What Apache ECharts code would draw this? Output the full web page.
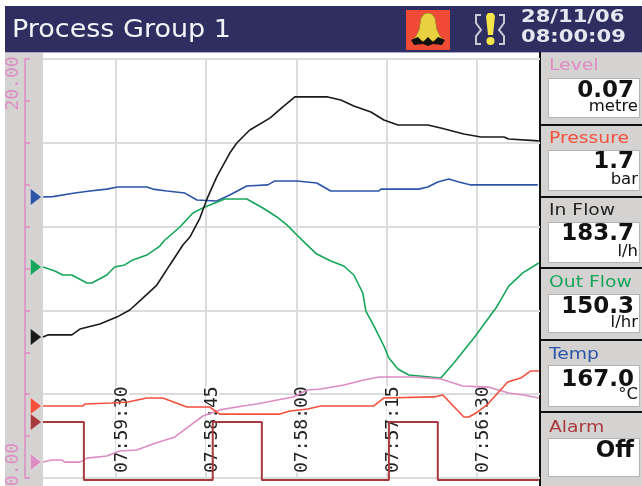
<!DOCTYPE html>
<html><head><meta charset="utf-8"><style>html,body{margin:0;padding:0;background:#fff}#c{width:642px;height:486px}</style>
<script src="https://cdn.jsdelivr.net/npm/echarts@6/dist/echarts.min.js"></script></head><body><div id="c"></div>
<script>
// seconds before 08:00:00 (chart runs backward in time to the right)
const tickSeconds=[30,75,120,165,210];
const tickLabels=['07:59:30','07:58:45','07:58:00','07:57:15','07:56:30'];
const tempT=[-6.4,-1.5,9.5,17,25.4,30.9,45.4,48.4,55.4,64.4,70.4,80.3,86.8,95.3,105.8,109.3,120.3,130.2,137.2,161.2,162.2,181.1,185.6,190.6,196.1,201.1,207.1,240.5];
const tempV=[13.41,13.43,13.60,13.70,13.79,13.89,13.89,13.79,13.70,13.60,13.27,13.22,13.51,13.94,13.99,14.18,14.18,14.08,13.70,13.70,13.79,13.79,13.89,14.13,14.27,14.13,13.99,13.99];
const outT=[-6.4,-0.5,3.5,8,15.5,18,25.4,29.4,34.4,38.4,45.4,51.9,54.4,61.9,68.4,74.4,84.3,95.3,103.3,110.3,115.3,120.3,124.3,130.2,137.2,143.7,148.7,153.2,154.7,158.7,163.7,166.2,170.7,176.1,192.1,198.6,208.6,219.6,226,233,241];
const outV=[10.07,9.88,9.69,9.69,9.31,9.31,9.69,10.07,10.17,10.41,10.64,11.07,11.36,11.98,12.65,12.94,13.32,13.32,12.89,12.46,12.08,11.60,11.22,10.69,10.36,10.12,9.69,8.83,7.97,7.26,6.30,5.73,5.20,4.92,4.77,5.49,6.68,8.11,9.16,9.79,10.26];
const inT=[-6.4,-4,8,12,22,30.4,36.9,43.4,50.4,56.9,63.4,66.9,71.9,75.8,80.3,86.8,90.3,96.8,106.8,113.3,119.3,132.2,135.7,142.2,148.7,157.2,163.7,170.7,185.6,192.1,203.6,212.1,223.6,226,241];
const inV=[6.73,6.83,6.83,7.11,7.35,7.68,8.02,8.59,9.21,10.17,11.12,11.50,12.41,13.41,14.37,15.51,15.99,16.61,17.18,17.71,18.19,18.19,18.19,18.04,17.76,17.47,17.09,16.85,16.85,16.71,16.42,16.28,16.28,16.18,16.09];
const levelT=[-6.4,-2,3,4.5,12,15.5,25.4,31.9,40.4,48.4,59.4,65.4,73.4,81.8,93.3,100.3,118.3,125.7,132.2,143.7,153.7,161.2,178.6,192.1,203.1,215.6,226,233.5,241];
const levelV=[0.76,0.86,0.86,0.76,0.76,0.95,1.05,1.29,1.34,1.62,1.96,2.39,2.96,3.25,3.44,3.53,3.87,4.20,4.25,4.44,4.68,4.82,4.82,4.73,4.39,4.34,4.06,3.96,3.82];
const pressT=[-6.4,13.5,14.5,27.9,35.9,45.4,53.4,65.4,76.8,81.8,111.8,116.8,125.7,132.2,158.7,163.7,188.6,193.1,203.6,206.1,209.6,215.6,225.5,232,237,241];
const pressV=[3.44,3.44,3.53,3.58,3.63,3.82,3.82,3.39,3.39,3.05,3.05,3.20,3.29,3.44,3.44,3.82,3.87,3.96,2.91,2.91,3.10,3.53,4.58,4.77,5.11,5.11];
const alarmT=[-6.4,14,14,78.3,78.3,102.8,102.8,166.2,166.2,190.6,190.6,241];
const alarmV=[2.67,2.67,-0.1,-0.1,2.67,2.67,-0.1,-0.1,2.67,2.67,-0.1,-0.1];
const panelNames=['Level','Pressure','In Flow','Out Flow','Temp','Alarm'];
const panelValues=['0.07','1.7','183.7','150.3','167.0','Off'];
const panelUnits=['metre','bar','l/h','l/hr','°C',''];
const title='Process Group 1', dateText='28/11/06', timeText='08:00:09';

const C={level:'#dd8cc4',press:'#f4503c',inf:'#1a1a1a',out:'#16a55a',temp:'#2c55a8',alarm:'#a83a3e'};
const defs=[['Temp',tempT,tempV,C.temp],['Out Flow',outT,outV,C.out],['In Flow',inT,inV,C.inf],
 ['Level',levelT,levelV,C.level],['Pressure',pressT,pressV,C.press],['Alarm',alarmT,alarmV,C.alarm]];
const series=defs.map(([n,t,v,c])=>({name:n,type:'line',xAxisIndex:0,yAxisIndex:0,z:3,symbol:'none',clip:false,
 lineStyle:{color:c,width:n==='Alarm'?2:1.6},itemStyle:{color:c},
 data:t.map((x,i)=>[x,v[i]]),
 markPoint:{silent:true,symbol:'triangle',symbolSize:[17,11],symbolRotate:-90,symbolOffset:[-7,0],label:{show:false},
  itemStyle:{color:c,borderColor:'rgba(255,255,255,.35)',borderWidth:1},data:[{coord:[t[0],v[0]]}]}}));

const g=[];
g.push({type:'rect',shape:{x:5,y:6,width:637,height:46},style:{fill:'#2e2f60'}});
g.push({type:'rect',shape:{x:5,y:52,width:637,height:1},style:{fill:'#a9a7c8'}});
g.push({type:'rect',shape:{x:5,y:53,width:38,height:433},style:{fill:'#d5d3d1'}});
function txt(s,x,y,font,fill,align,sx){g.push({type:'text',x:x,y:y,scaleX:sx||1,style:{text:s,x:0,y:0,font:font,fill:fill,textAlign:align||'left',textVerticalAlign:'middle'}});}
txt(title,12,30,'25px "DejaVu Sans"','#f4f4f8','left',1.08);
txt(dateText,521,18,'bold 17px "DejaVu Sans"','#e6e6f0','left',1.24);
txt(timeText,521,38,'bold 17px "DejaVu Sans"','#e6e6f0','left',1.24);
// alarm bell icon
g.push({type:'rect',shape:{x:406,y:10,width:44,height:40},style:{fill:'#ee4a35'}});
g.push({type:'polygon',shape:{points:[[428,13],[424,14],[421,18],[420,24],[419,30],[416,36],[412,41],[444,41],[440,36],[437,30],[436,24],[435,18],[432,14]]},style:{fill:'#e8d040',stroke:'#8a7a20',lineWidth:.6}});
g.push({type:'polygon',shape:{points:[[411,40],[418,37],[423,42],[428,37],[433,42],[438,37],[445,40],[442,45],[433,44],[428,46],[423,44],[414,45]]},style:{fill:'#111'}});
// alert icon
g.push({type:'polyline',shape:{points:[[481,15],[476,15],[476,23],[481,30],[476,36],[476,44],[481,44]]},style:{stroke:'#c8c8d2',fill:null,lineWidth:2}});
g.push({type:'polyline',shape:{points:[[499,15],[504,15],[504,23],[499,30],[504,36],[504,44],[499,44]]},style:{stroke:'#c8c8d2',fill:null,lineWidth:2}});
g.push({type:'polygon',shape:{points:[[486,16],[488,13],[493,13],[495,16],[493,35],[488,35]]},style:{fill:'#f4e64a'}});
g.push({type:'circle',shape:{cx:490.5,cy:41,r:4},style:{fill:'#f4e64a'}});
// side panels
const tops=[53,126,198,269,341,413], bottoms=[125,197,268,340,412,486];
const boxT=[78,150,222,294,365,438], boxB=[117,190,262,332,406,476];
const labY=[66,139,211,283,355,428], valY=[90,161,233,306,379,450], unitY=[107,180,252,323,395,0];
const nameCol=[C.level,C.press,'#222',C.out,C.temp,C.alarm];
g.push({type:'rect',shape:{x:539,y:52,width:2,height:434},style:{fill:'#111'}});
panelNames.forEach((n,i)=>{
 g.push({type:'rect',shape:{x:541,y:tops[i],width:101,height:bottoms[i]-tops[i]},style:{fill:'#d5d3d1'}});
 if(i)g.push({type:'rect',shape:{x:541,y:tops[i]-2,width:101,height:2},style:{fill:'#111'}});
 g.push({type:'rect',shape:{x:548.5,y:boxT[i]+.5,width:91,height:boxB[i]-boxT[i]},style:{fill:'#fff',stroke:'#b4b4b4',lineWidth:1}});
 txt(n,549,labY[i],'15px "DejaVu Sans"',nameCol[i],'left',1.25);
 txt(panelValues[i],634,valY[i]+1,'bold 23px "DejaVu Sans"','#111','right');
 if(panelUnits[i])txt(panelUnits[i],638,unitY[i],'15px "DejaVu Sans"','#111','right',1.1);
});

const chart=echarts.init(document.getElementById('c'),null,{renderer:'canvas'});
chart.setOption({animation:false,backgroundColor:'#fff',
 grid:{left:43,right:102,top:59,bottom:8,show:false,outerBoundsMode:'none'},
 graphic:{elements:g.map(e=>Object.assign(e,{z:0,silent:true}))},
 xAxis:[
  {type:'value',min:-6.4,max:241.6,z:1,position:'bottom',axisLine:{show:false,onZero:false},axisTick:{show:false,customValues:tickSeconds},axisLabel:{show:false},
   splitLine:{show:true,lineStyle:{color:'#dcdcdc',width:2}}},
  {type:'value',min:-6.4,max:241.6,z:2,position:'bottom',axisLine:{show:false,onZero:false},axisTick:{show:false,customValues:tickSeconds},splitLine:{show:false},
   axisLabel:{show:true,inside:true,rotate:90,customValues:tickSeconds,margin:5,color:'#222',fontFamily:'DejaVu Sans Mono',fontSize:18,
    verticalAlign:'top',lineHeight:13,backgroundColor:'#fff',formatter:v=>tickLabels[tickSeconds.indexOf(v)]||''}}
 ],
 yAxis:[
  {type:'value',min:0,max:20,interval:4,z:1,axisLine:{show:false},axisTick:{show:false},axisLabel:{show:false},
   splitLine:{show:true,lineStyle:{color:'#dcdcdc',width:2}}},
  {type:'value',min:0,max:20,interval:2,z:2,offset:18,position:'left',splitLine:{show:false},
   axisLine:{show:true,onZero:false,lineStyle:{color:C.level,width:1.5}},axisTick:{show:true,inside:true,length:5,lineStyle:{color:C.level,width:1.5}},
   axisLabel:{show:true,rotate:90,customValues:[0,20],margin:3,align:'center',color:C.level,
    formatter:v=>v===0?'{b|0.00}':'{a|20.00}',
    rich:{a:{fontFamily:'DejaVu Sans Mono',fontSize:18,color:C.level,padding:[0,49,0,0]},b:{fontFamily:'DejaVu Sans Mono',fontSize:18,color:C.level,padding:[0,0,0,27]}}}}
 ],
 series:series});
</script></body></html>
